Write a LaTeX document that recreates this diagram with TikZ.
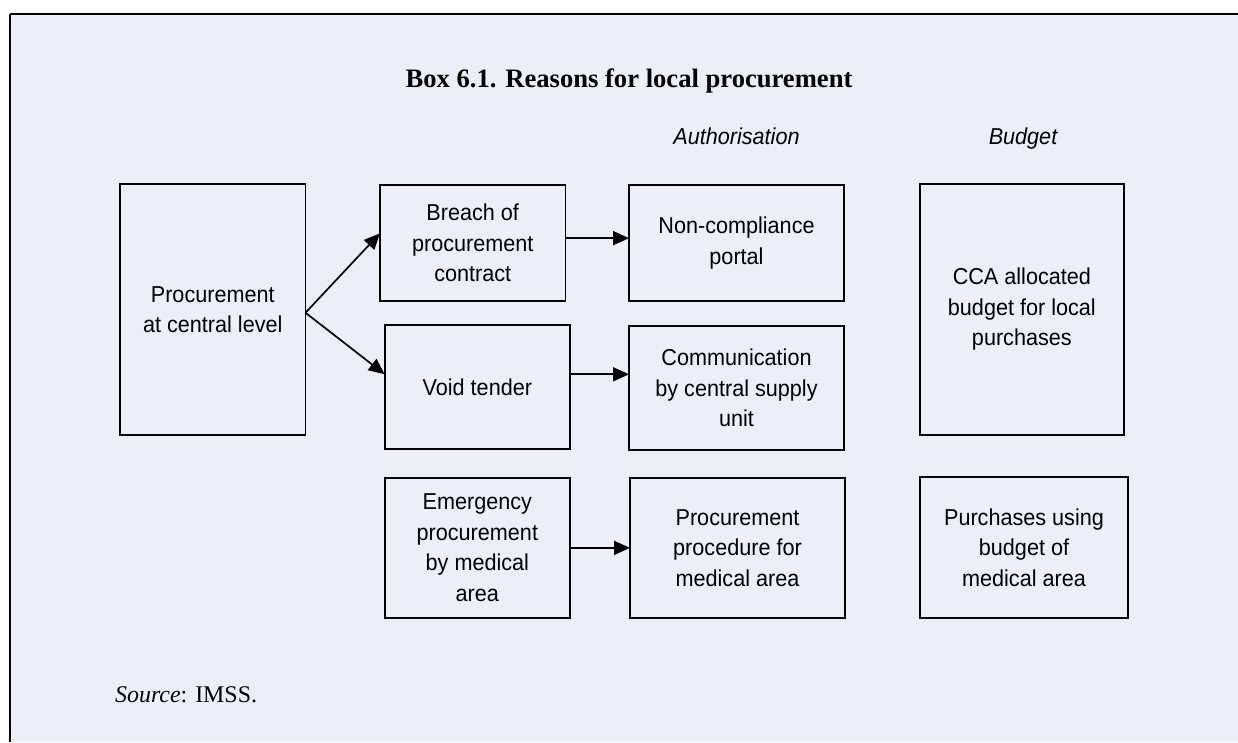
\documentclass[tikz,border=0pt]{standalone}
\usepackage{fontspec}
\setmainfont{Liberation Serif}
\setsansfont{Liberation Sans}
\newfontfamily\boxfont{Liberation Sans}[FakeStretch=0.94]
\usetikzlibrary{arrows.meta,calc}
\definecolor{bgblue}{RGB}{236,239,247}
\begin{document}
\begin{tikzpicture}[x=1pt,y=-1pt,
  blk/.style={draw=black, line width=1.8pt, align=center, inner sep=0pt, outer sep=0pt,
    font=\boxfont\fontsize{23}{30.5}\selectfont},
  arr/.style={line width=1.7pt, -{Triangle[length=16pt,width=14pt]}},
  colhead/.style={anchor=base, inner sep=0pt, font=\boxfont\itshape\fontsize{23}{26}\selectfont}]
\useasboundingbox (0,0) rectangle (1238,742);
\fill[white] (0,0) rectangle (1238,742);
\fill[bgblue] (10,14) rectangle (1238,742);
\draw[line width=1.2pt] (10,14) -- (1238,14);
\draw[line width=2pt] (10,14) -- (10,742);

\node[anchor=base, inner sep=0pt, font=\bfseries\fontsize{26.6}{30}\selectfont] (title) at (629,87.3) {Box 6.1. Reasons for local procurement};
\node[colhead] (auth) at (736.5,144) {Authorisation};
\node[colhead] (budget) at (1023,144) {Budget};

\node[blk, minimum width=185.5pt, minimum height=251pt] (pc) at (212.75,309.5) {Procurement\\at central level};
\node[blk, minimum width=185.5pt, minimum height=116pt] (breach) at (472.75,243) {Breach of\\procurement\\contract};
\node[blk, minimum width=185.3pt, minimum height=124pt] (void) at (477.35,387.3) {Void tender};
\node[blk, minimum width=185.3pt, minimum height=140.3pt] (emerg) at (477.35,547.85) {Emergency\\procurement\\by medical\\area};
\node[blk, minimum width=215pt, minimum height=116pt] (noncomp) at (736.5,243) {Non-compliance\\portal};
\node[blk, minimum width=215pt, minimum height=124.3pt] (comm) at (736.5,387.85) {Communication\\by central supply\\unit};
\node[blk, minimum width=215pt, minimum height=140.3pt] (proc) at (737.5,547.85) {Procurement\\procedure for\\medical area};
\node[blk, minimum width=204.3pt, minimum height=250.7pt] (cca) at (1021.85,309.35) {CCA allocated\\budget for local\\purchases};
\node[blk, minimum width=208pt, minimum height=141pt] (purch) at (1024,547.5) {Purchases using\\budget of\\medical area};

\draw[arr] (pc.-2) -- (breach.174);
\draw[arr] (pc.-2) -- (void.172);
\draw[arr] (breach.3) -- (breach.3 -| noncomp.west);
\draw[arr] (void.8) -- (void.8 -| comm.west);
\draw[arr] (emerg.east) -- (emerg.east -| proc.west);

\node[anchor=base west, inner sep=0pt, font=\fontsize{23.9}{28}\selectfont] (src) at (115,702.7) {\textit{Source}: IMSS.};
\end{tikzpicture}
\end{document}
